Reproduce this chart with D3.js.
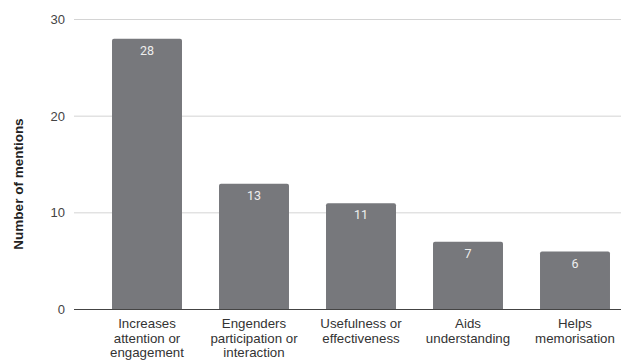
<!DOCTYPE html>
<html>
<head>
<meta charset="utf-8">
<script src="https://cdn.jsdelivr.net/npm/d3@7"></script>
<style>
  html, body { margin: 0; padding: 0; background: #fff; }
  svg { display: block; font-family: "Liberation Sans", Arial, sans-serif; }
</style>
</head>
<body>
<svg id="chart" width="621" height="363"></svg>
<script>
// Reasons given, and how often each was mentioned
const categories = [
  ["Increases", "attention or", "engagement"],
  ["Engenders", "participation or", "interaction"],
  ["Usefulness or", "effectiveness"],
  ["Aids", "understanding"],
  ["Helps", "memorisation"]
];
const mentions = [28, 13, 11, 7, 6];
const yTicks = [0, 10, 20, 30];

const svg = d3.select("#chart");
const plotLeft = 74, plotRight = 621;

const x = d3.scaleBand()
  .domain(d3.range(categories.length))
  .range([93.5, 628.5])
  .paddingInner(0.346)
  .paddingOuter(0.173);

const y = d3.scaleLinear().domain([0, 30]).range([309.5, 19.5]);

// Horizontal gridlines
svg.append("g")
  .selectAll("line")
  .data(yTicks.filter(d => d !== 0))
  .join("line")
  .attr("x1", plotLeft).attr("x2", plotRight)
  .attr("y1", d => y(d)).attr("y2", d => y(d))
  .attr("stroke", "#d4d4d4").attr("stroke-width", 1);

// Y tick labels
svg.append("g")
  .selectAll("text")
  .data(yTicks)
  .join("text")
  .attr("x", 65).attr("y", d => y(d))
  .attr("dy", "0.35em")
  .attr("text-anchor", "end")
  .attr("font-size", 13)
  .attr("fill", "#444")
  .text(d => d);

// Bars with slightly rounded tops
const bar = svg.append("g")
  .selectAll("g")
  .data(mentions)
  .join("g");

bar.append("path")
  .attr("fill", "#77787c")
  .attr("d", (d, i) => {
    const x0 = x(i), w = x.bandwidth(), top = y(d), bot = y(0), r = 2;
    return `M${x0},${bot}V${top + r}Q${x0},${top} ${x0 + r},${top}` +
           `H${x0 + w - r}Q${x0 + w},${top} ${x0 + w},${top + r}V${bot}Z`;
  });

// Value labels inside each bar
bar.append("text")
  .attr("x", (d, i) => x(i) + x.bandwidth() / 2)
  .attr("y", d => y(d) + 16)
  .attr("text-anchor", "middle")
  .attr("font-family", "Roboto, Arial, sans-serif")
  .attr("font-size", 12.5)
  .attr("fill", "#eeeeee")
  .text(d => d);

// Baseline
svg.append("line")
  .attr("x1", plotLeft).attr("x2", plotRight)
  .attr("y1", y(0)).attr("y2", y(0))
  .attr("stroke", "#444").attr("stroke-width", 1.2);

// Category labels, wrapped onto several lines
svg.append("g")
  .selectAll("text")
  .data(categories)
  .join("text")
  .attr("text-anchor", "middle")
  .attr("font-size", 13.3)
  .attr("fill", "#333")
  .each(function(lines, i) {
    d3.select(this).selectAll("tspan")
      .data(lines)
      .join("tspan")
      .attr("x", x(i) + x.bandwidth() / 2)
      .attr("y", (l, j) => 328 + j * 14.5)
      .text(l => l);
  });

// Y axis title
svg.append("text")
  .attr("transform", "translate(23,184) rotate(-90)")
  .attr("text-anchor", "middle")
  .attr("font-size", 13.5)
  .attr("font-weight", "bold")
  .attr("fill", "#222")
  .text("Number of mentions");
</script>
</body>
</html>
